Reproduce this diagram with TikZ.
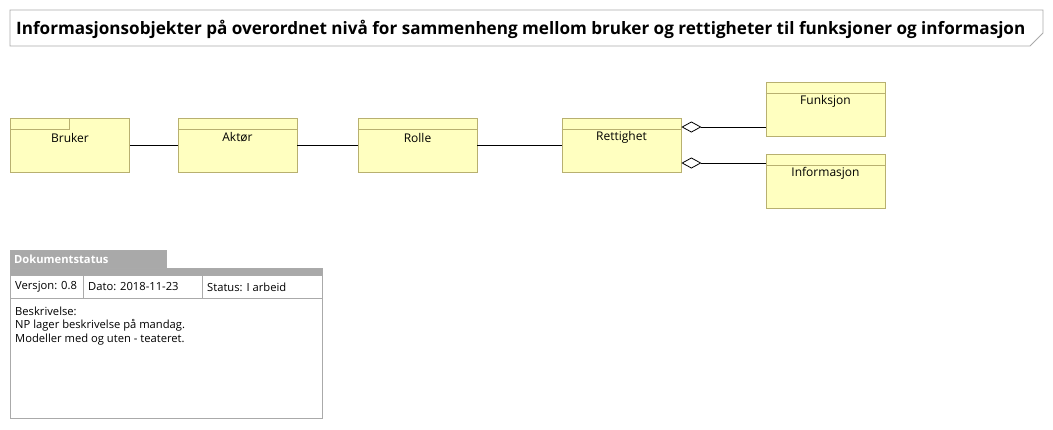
\documentclass[tikz,border=0pt]{standalone}
\usepackage{fontspec}
\setmainfont{Open Sans}
\usetikzlibrary{calc,positioning,arrows.meta}
\definecolor{classfill}{RGB}{255,255,192}
\definecolor{classdraw}{RGB}{184,176,112}
\definecolor{framegray}{RGB}{170,170,170}
\definecolor{tabgray}{RGB}{169,169,169}
\tikzset{
  umlclass/.style={draw=classdraw, fill=classfill, line width=0.8pt,
    minimum width=119pt, minimum height=54pt, inner sep=0pt},
  compline/.style={draw=classdraw, line width=0.8pt},
  classname/.style={font=\fontsize{12}{14}\selectfont, inner sep=0pt},
  assoc/.style={line width=0.8pt},
  aggr/.style={line width=0.8pt, {Diamond[open,length=20pt,width=11pt,line width=0.8pt]}-},
  statustext/.style={font=\fontsize{11.2}{13}\selectfont, anchor=west, inner sep=0pt}
}
\begin{document}
\begin{tikzpicture}[x=1pt,y=-1pt]
    \useasboundingbox[fill=white] (0,0) rectangle (1053,429);

    % title
    \draw[framegray, line width=0.8pt] (10,10) -- (1043,10) -- (1043,33)
      -- (1030,46) -- (10,46) -- cycle;
    \node[anchor=west, inner sep=0pt, font=\bfseries\fontsize{17.1}{19}\selectfont]
      (title) at (16,29) {Informasjonsobjekter på overordnet nivå for sammenheng
      mellom bruker og rettigheter til funksjoner og informasjon};

    % classes
    \node[umlclass] (bruker) at (70,145) {};
    \node[umlclass] (aktor) at (237.5,145) {};
    \node[umlclass] (rolle) at (417.5,145) {};
    \node[umlclass] (rettighet) at (621.5,145) {};
    \node[umlclass] (funksjon) at (825.5,109) {};
    \node[umlclass] (informasjon) at (825.5,181) {};

    \draw[compline] ($(bruker.north west)+(0,12)$) -- ($(bruker.north west)+(59,12)$)
      -- ($(bruker.north west)+(59,0)$);
    \foreach \c in {aktor,rolle,rettighet,funksjon,informasjon}
      \draw[compline] ($(\c.north west)+(0,12)$) -- ($(\c.north east)+(0,12)$);

    \node[classname] at ($(bruker.north)+(0,20)$) {Bruker};
    \node[classname] at ($(aktor.north)+(0,20)$) {Aktør};
    \node[classname] at ($(rolle.north)+(0,20)$) {Rolle};
    \node[classname] at ($(rettighet.north)+(0,20)$) {Rettighet};
    \node[classname] at ($(funksjon.north)+(0,20)$) {Funksjon};
    \node[classname] at ($(informasjon.north)+(0,20)$) {Informasjon};

    % connectors
    \draw[assoc] (bruker) -- (aktor);
    \draw[assoc] (aktor) -- (rolle);
    \draw[assoc] (rolle) -- (rettighet);
    \coordinate (rf) at ($(rettighet.east)+(0,-18)$);
    \coordinate (ri) at ($(rettighet.east)+(0,18)$);
    \draw[aggr] (rf) -- (rf -| funksjon.west);
    \draw[aggr] (ri) -- (ri -| informasjon.west);

    % document status
    \draw[framegray, fill=tabgray, line width=0.8pt] (10,250) rectangle (166,268);
    \node[anchor=west, inner sep=0pt, text=white, font=\bfseries\fontsize{11.2}{13}\selectfont]
      (statustab) at (14,259.5) {Dokumentstatus};
    \draw[framegray, fill=tabgray, line width=0.8pt] (10,268) rectangle (322,275);
    \draw[framegray, line width=0.8pt] (10,275) rectangle (322,418);
    \draw[framegray, line width=0.8pt] (10,298) -- (322,298);
    \draw[framegray, line width=0.8pt] (83,275) -- (83,298);
    \draw[framegray, line width=0.8pt] (202,275) -- (202,298);
    \node[statustext] (versjon) at (15,287) {Versjon: 0.8};
    \node[statustext] (dato) at (88,287) {Dato: 2018-11-23};
    \node[statustext] (status) at (207,287) {Status: I arbeid};
    \node[statustext] (beskr) at (15,311) {Beskrivelse:};
    \node[statustext] (linea) at (15,325.5) {NP lager beskrivelse på mandag.};
    \node[statustext] (lineb) at (15,340) {Modeller med og uten - teateret.};
  \end{tikzpicture}
\end{document}
